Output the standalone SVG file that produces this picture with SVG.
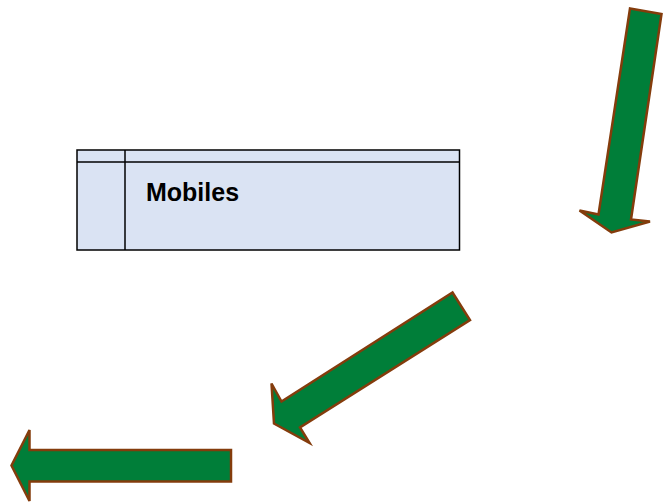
<svg xmlns="http://www.w3.org/2000/svg" width="664" height="502" viewBox="0 0 664 502">
<style>
.arrow{fill:#007E39;stroke:#843C0C;stroke-width:2.5;stroke-linejoin:miter}
.box{fill:#DAE3F3;stroke:#000;stroke-width:1.5}
.lbl{font-family:"Liberation Sans",Arial,sans-serif;font-weight:bold;font-size:25px;fill:#000}
</style>
<rect width="664" height="502" fill="#fff"/>
<g id="mobiles">
<rect class="box" x="77" y="150" width="382.5" height="100"/>
<line class="box" x1="77" y1="162" x2="459.5" y2="162"/>
<line class="box" x1="125" y1="150" x2="125" y2="250"/>
<text class="lbl" x="146" y="201">Mobiles</text>
</g>
<g id="connectors">
<polygon class="arrow" points="630,8.5 661.5,14 631,219.5 650,221.5 611.5,232.5 579.5,210.5 598.5,214.5"/>
<polygon class="arrow" points="452.5,292.5 470,320 300,427.5 309.5,443 274,423.5 271.5,383.5 281.5,401.5"/>
<polygon class="arrow" points="231,450 231,481.5 29.5,481.5 29.5,501 11.5,465.5 29.5,430 29.5,450"/>
</g>
</svg>
